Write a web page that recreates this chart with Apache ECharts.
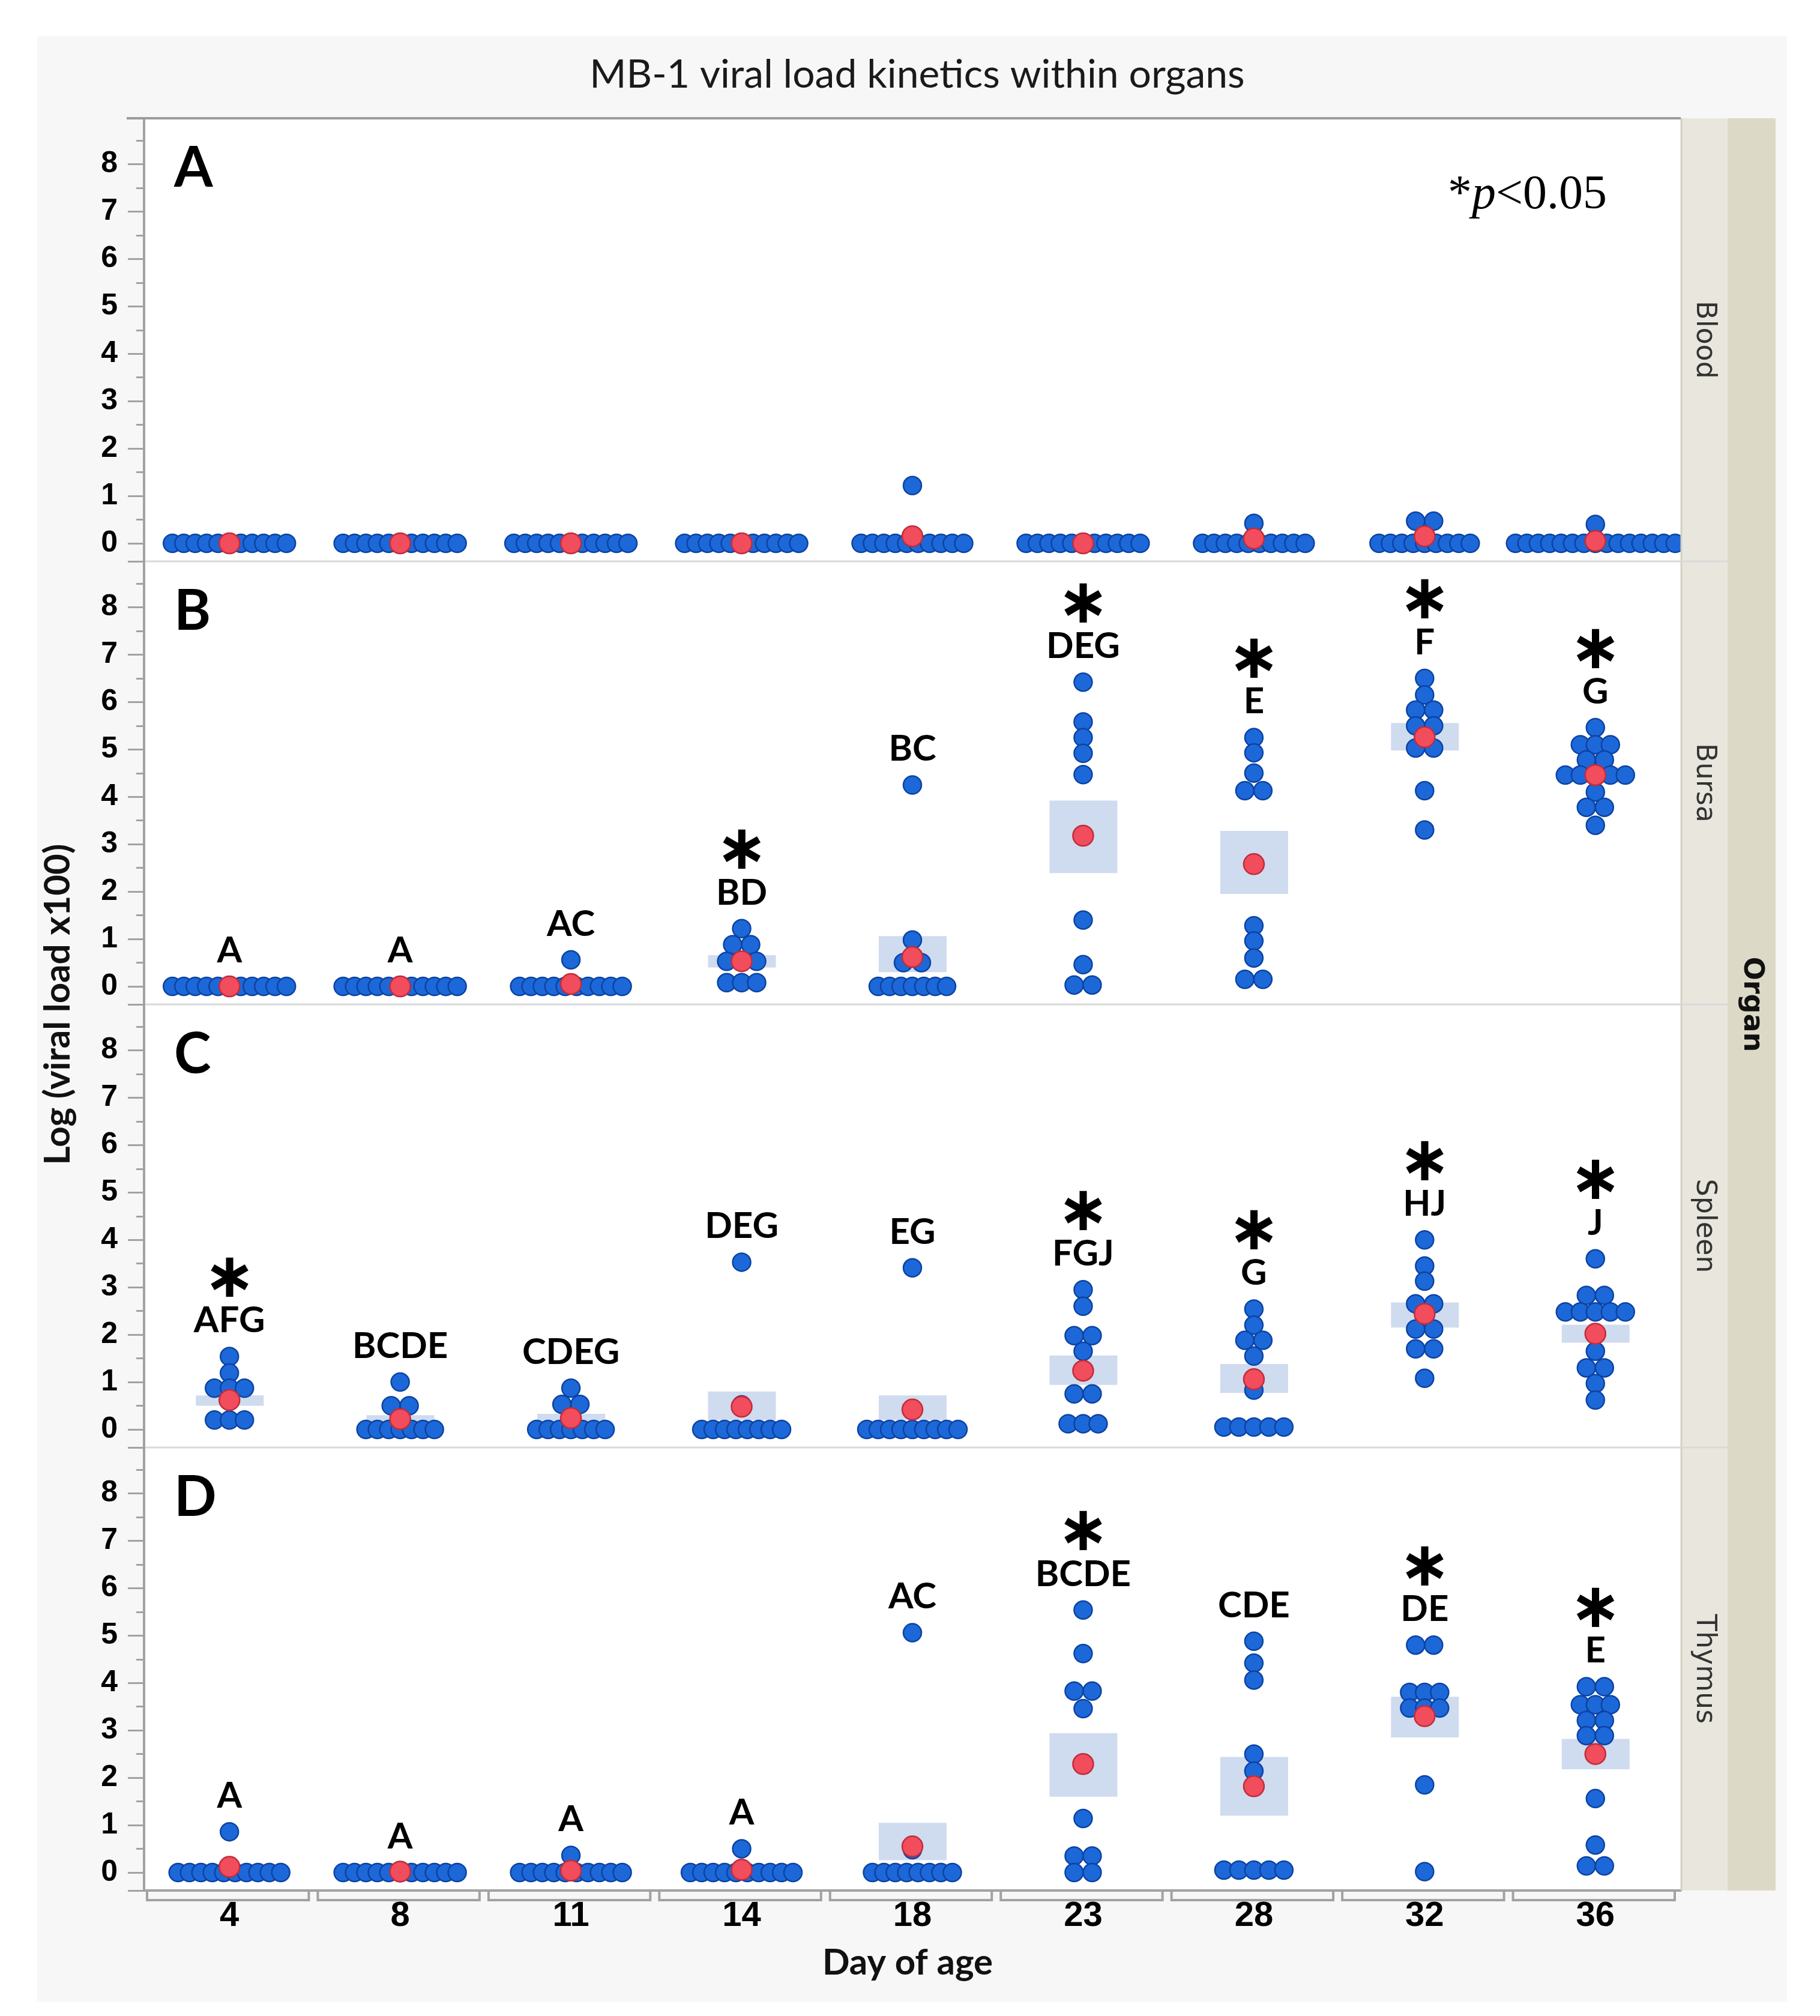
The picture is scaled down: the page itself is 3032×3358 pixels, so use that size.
<!DOCTYPE html>
<html>
<head>
<meta charset="utf-8">
<title>MB-1 viral load kinetics within organs</title>
<script src="https://cdn.jsdelivr.net/npm/echarts@6/dist/echarts.min.js"></script>
<style>
  html, body { margin: 0; padding: 0; background: #fff; }
  #chart { width: 3032px; height: 3358px; }
</style>
</head>
<body>
<div id="chart"></div>
<script>
// categories
var days = ['4', '8', '11', '14', '18', '23', '28', '32', '36'];
var organs = ['Blood', 'Bursa', 'Spleen', 'Thymus'];
var panelTags = ['A', 'B', 'C', 'D'];
var yTickLabels = [0, 1, 2, 3, 4, 5, 6, 7, 8];
var yMinorTicks = [0.5, 1.5, 2.5, 3.5, 4.5, 5.5, 6.5, 7.5, 8.5];

// individual birds, log(viral load x100), one list per day
var bloodVals = [
    [0, 0, 0, 0, 0, 0, 0, 0, 0, 0, 0],
    [0, 0, 0, 0, 0, 0, 0, 0, 0, 0, 0],
    [0, 0, 0, 0, 0, 0, 0, 0, 0, 0, 0],
    [0, 0, 0, 0, 0, 0, 0, 0, 0, 0, 0],
    [1.22, 0, 0, 0, 0, 0, 0, 0, 0, 0, 0],
    [0, 0, 0, 0, 0, 0, 0, 0, 0, 0, 0],
    [0.42, 0, 0, 0, 0, 0, 0, 0, 0, 0, 0],
    [0.47, 0.47, 0, 0, 0, 0, 0, 0, 0, 0, 0],
    [0.4, 0, 0, 0, 0, 0, 0, 0, 0, 0, 0, 0, 0, 0, 0, 0]
];
var bloodMean = [0, 0, 0, 0, 0.15, 0, 0.1, 0.15, 0.05];
var bloodLo = [null, null, null, null, null, null, null, null, null];
var bloodHi = [null, null, null, null, null, null, null, null, null];
var bloodLetters = ['', '', '', '', '', '', '', '', ''];
var bloodStars = [0, 0, 0, 0, 0, 0, 0, 0, 0];

var bursaVals = [
    [0, 0, 0, 0, 0, 0, 0, 0, 0, 0, 0],
    [0, 0, 0, 0, 0, 0, 0, 0, 0, 0, 0],
    [0.56, 0, 0, 0, 0, 0, 0, 0, 0, 0, 0],
    [1.22, 0.88, 0.88, 0.53, 0.53, 0.53, 0.08, 0.08, 0.08],
    [4.25, 0.98, 0.5, 0.5, 0, 0, 0, 0, 0, 0, 0],
    [6.42, 5.58, 5.25, 4.92, 4.47, 3.2, 1.4, 0.46, 0.03, 0.03],
    [5.25, 4.93, 4.5, 4.13, 4.13, 1.28, 0.96, 0.6, 0.15, 0.15],
    [6.5, 6.15, 5.83, 5.83, 5.5, 5.5, 5.03, 5.03, 4.13, 3.3],
    [5.46, 5.1, 5.1, 5.1, 4.78, 4.78, 4.46, 4.46, 4.46, 4.46, 4.46, 4.1, 3.78, 3.78, 3.4]
];
var bursaMean = [0, 0, 0.05, 0.53, 0.62, 3.18, 2.58, 5.26, 4.46];
var bursaLo = [null, null, null, 0.4, 0.3, 2.39, 1.95, 4.98, 4.3];
var bursaHi = [null, null, null, 0.66, 1.06, 3.92, 3.28, 5.56, 4.62];
var bursaLetters = ['A', 'A', 'AC', 'BD', 'BC', 'DEG', 'E', 'F', 'G'];
var bursaStars = [0, 0, 0, 1, 0, 1, 1, 1, 1];

var spleenVals = [
    [1.54, 1.19, 0.87, 0.87, 0.87, 0.6, 0.2, 0.2, 0.2],
    [1.0, 0.5, 0.5, 0.2, 0, 0, 0, 0, 0, 0, 0],
    [0.87, 0.53, 0.53, 0.23, 0, 0, 0, 0, 0, 0, 0],
    [3.53, 0.52, 0, 0, 0, 0, 0, 0, 0, 0],
    [3.41, 0, 0, 0, 0, 0, 0, 0, 0, 0],
    [2.95, 2.6, 1.98, 1.98, 1.65, 0.75, 0.75, 0.12, 0.12, 0.12],
    [2.54, 2.2, 1.88, 1.88, 1.55, 0.83, 0.05, 0.05, 0.05, 0.05, 0.05],
    [4.0, 3.45, 3.13, 2.65, 2.65, 2.12, 2.12, 1.7, 1.7, 1.08],
    [3.6, 2.83, 2.83, 2.48, 2.48, 2.48, 2.48, 2.48, 2.03, 1.65, 1.3, 1.3, 0.97, 0.62]
];
var spleenMean = [0.62, 0.22, 0.24, 0.48, 0.42, 1.24, 1.06, 2.44, 2.02];
var spleenLo = [0.5, 0.08, 0.1, 0.2, 0.2, 0.94, 0.77, 2.15, 1.83];
var spleenHi = [0.72, 0.3, 0.33, 0.8, 0.72, 1.56, 1.38, 2.68, 2.21];
var spleenLetters = ['AFG', 'BCDE', 'CDEG', 'DEG', 'EG', 'FGJ', 'G', 'HJ', 'J'];
var spleenStars = [1, 0, 0, 0, 0, 1, 1, 1, 1];

var thymusVals = [
    [0.86, 0, 0, 0, 0, 0, 0, 0, 0, 0, 0],
    [0, 0, 0, 0, 0, 0, 0, 0, 0, 0, 0],
    [0.36, 0, 0, 0, 0, 0, 0, 0, 0, 0, 0],
    [0.5, 0, 0, 0, 0, 0, 0, 0, 0, 0, 0],
    [5.06, 0.48, 0, 0, 0, 0, 0, 0, 0, 0],
    [5.54, 4.62, 3.83, 3.83, 3.46, 1.14, 0.35, 0.35, 0, 0],
    [4.88, 4.42, 4.06, 2.5, 2.14, 1.82, 0.05, 0.05, 0.05, 0.05, 0.05],
    [4.8, 4.8, 3.8, 3.8, 3.8, 3.47, 3.47, 3.47, 1.85, 0.02],
    [3.92, 3.92, 3.54, 3.54, 3.54, 3.21, 3.21, 2.89, 2.89, 2.52, 1.56, 0.58, 0.14, 0.14]
];
var thymusMean = [0.12, 0.02, 0.04, 0.06, 0.55, 2.29, 1.82, 3.3, 2.5];
var thymusLo = [null, null, null, null, 0.26, 1.6, 1.2, 2.85, 2.18];
var thymusHi = [null, null, null, null, 1.05, 2.94, 2.44, 3.71, 2.82];
var thymusLetters = ['A', 'A', 'A', 'A', 'AC', 'BCDE', 'CDE', 'DE', 'E'];
var thymusStars = [0, 0, 0, 0, 0, 1, 0, 1, 1];

var panels = [
    { vals: bloodVals, mean: bloodMean, lo: bloodLo, hi: bloodHi, letters: bloodLetters, stars: bloodStars },
    { vals: bursaVals, mean: bursaMean, lo: bursaLo, hi: bursaHi, letters: bursaLetters, stars: bursaStars },
    { vals: spleenVals, mean: spleenMean, lo: spleenLo, hi: spleenHi, letters: spleenLetters, stars: spleenStars },
    { vals: thymusVals, mean: thymusMean, lo: thymusLo, hi: thymusHi, letters: thymusLetters, stars: thymusStars }
];

// layout (pixels)
var W = 3032, H = 3358;
var gridLeft = 240, gridRight = 2800, gridTop = 197, panelH = 738;
var yMin = -0.38, yMax = 8.97;
var axisGray = '#a2a2a2';

// points sharing a value sit side by side, centred on the category
function swarm(vals) {
    var rows = [];
    vals.slice().sort(function (a, b) { return b - a; }).forEach(function (v) {
        var row = null;
        for (var i = 0; i < rows.length; i++) {
            if (Math.abs(rows[i].v - v) < 0.02) { row = rows[i]; break; }
        }
        if (row) row.items.push(v); else rows.push({ v: v, items: [v] });
    });
    var out = [];
    rows.forEach(function (r) {
        var n = r.items.length;
        var sp = n === 2 ? 30 : (n <= 5 ? 25 : 19);
        r.items.forEach(function (v, i) {
            out.push({ v: v, dx: (i - (n - 1) / 2) * sp });
        });
    });
    return out;
}

var grids = [], xAxes = [], yAxes = [], series = [], graphics = [];

panels.forEach(function (p, g) {
    var top = gridTop + panelH * g;
    grids.push({
        left: gridLeft, width: gridRight - gridLeft, top: top, height: panelH,
        show: true, backgroundColor: '#ffffff', borderWidth: 0
    });
    var last = g === panels.length - 1;
    xAxes.push({
        gridIndex: g, type: 'category', data: days, boundaryGap: true,
        axisLine: { show: last, onZero: false, lineStyle: { color: axisGray, width: 4 } },
        axisTick: { show: false },
        axisLabel: {
            show: last, margin: 14, fontSize: 58, fontWeight: 'bold',
            fontFamily: 'Liberation Sans', color: '#000'
        },
        splitLine: { show: false }
    });
    yAxes.push({
        gridIndex: g, type: 'value', min: yMin, max: yMax, position: 'left',
        axisLine: { show: true, lineStyle: { color: axisGray, width: 4 } },
        axisTick: {
            show: true, length: 27, customValues: [yMin].concat(yTickLabels, [yMax]),
            lineStyle: { color: axisGray, width: 3 }
        },
        axisLabel: {
            customValues: yTickLabels, margin: 44, fontSize: 50, fontWeight: 'bold',
            fontFamily: 'Liberation Sans', color: '#000'
        },
        splitLine: { show: false }
    });
    // minor ticks at the half units
    yAxes.push({
        gridIndex: g, type: 'value', min: yMin, max: yMax, position: 'left',
        axisLine: { show: false },
        axisTick: { show: true, length: 13, customValues: yMinorTicks, lineStyle: { color: axisGray, width: 3 } },
        axisLabel: { show: false },
        splitLine: { show: false }
    });

    var bandData = [], blueData = [], meanData = [], labelData = [];
    days.forEach(function (d, i) {
        if (p.lo[i] !== null) bandData.push([i, p.lo[i], p.hi[i]]);
        swarm(p.vals[i]).forEach(function (pt) {
            blueData.push({ value: [i, pt.v], symbolOffset: [pt.dx, 0] });
        });
        meanData.push([i, p.mean[i]]);
        if (p.letters[i]) {
            var text = (p.stars[i] ? '{s|\u2217}\n' : '') + '{l|' + p.letters[i] + '}';
            labelData.push({ value: [i, Math.max.apply(null, p.vals[i])], label: { formatter: text } });
        }
    });

    series.push({
        type: 'custom', xAxisIndex: g, yAxisIndex: 2 * g, z: 1, silent: true,
        data: bandData,
        renderItem: function (params, api) {
            var a = api.coord([api.value(0), api.value(1)]);
            var b = api.coord([api.value(0), api.value(2)]);
            return {
                type: 'rect',
                shape: { x: a[0] - 56, y: b[1], width: 113, height: a[1] - b[1] },
                style: { fill: '#cfdbee' }
            };
        }
    });
    series.push({
        type: 'scatter', xAxisIndex: g, yAxisIndex: 2 * g, z: 2, silent: true,
        symbolSize: 30, data: blueData,
        itemStyle: { color: '#1d68d8', borderColor: '#0c43a3', borderWidth: 2.5, opacity: 1 }
    });
    series.push({
        type: 'scatter', xAxisIndex: g, yAxisIndex: 2 * g, z: 3, silent: true,
        symbolSize: 34, data: meanData,
        itemStyle: { color: '#f24d5c', borderColor: '#c22c3b', borderWidth: 2.5, opacity: 1 }
    });
    series.push({
        type: 'scatter', xAxisIndex: g, yAxisIndex: 2 * g, z: 4, silent: true,
        symbolSize: 1, data: labelData,
        itemStyle: { color: 'rgba(0,0,0,0)' },
        label: {
            show: true, position: 'top', distance: 27, align: 'center',
            color: '#000', opacity: 1, textBorderWidth: 0,
            rich: {
                s: { fontFamily: 'DejaVu Sans', fontWeight: 'bold', fontSize: 104, lineHeight: 70, color: '#000' },
                l: { fontFamily: 'Lato', fontWeight: 'bold', fontSize: 60, lineHeight: 64, color: '#000' }
            }
        }
    });

    // panel letter and strip label
    graphics.push({
        type: 'text', x: gridLeft + 50, y: top + 84, z: 20,
        style: { text: panelTags[g], font: 'bold 93px Lato', fill: '#000', textVerticalAlign: 'middle' }
    });
    graphics.push({
        type: 'text', x: 2839, y: top + panelH / 2, rotation: -Math.PI / 2, z: 20,
        style: { text: organs[g], font: '46px "DejaVu Sans"', fill: '#333', textAlign: 'center', textVerticalAlign: 'middle' }
    });
    if (g > 0) {
        graphics.push({
            type: 'line', z: 15,
            shape: { x1: gridLeft + 2, y1: top, x2: 2878, y2: top },
            style: { stroke: '#d9d9d9', lineWidth: 3 }
        });
    }
});

// bracket ticks under each day
series.push({
    type: 'custom', xAxisIndex: 3, yAxisIndex: 6, z: 5, silent: true, clip: false,
    data: days.map(function (d, i) { return [i, 0]; }),
    renderItem: function (params, api) {
        var c = api.coord([api.value(0), 0]);
        var bw = api.size([1, 0])[0];
        var yb = params.coordSys.y + params.coordSys.height;
        var x0 = c[0] - bw / 2 + 5, x1 = c[0] + bw / 2 - 10;
        return {
            type: 'polyline',
            shape: { points: [[x0, yb + 2], [x0, yb + 16], [x1, yb + 16], [x1, yb + 2]] },
            style: { stroke: axisGray, lineWidth: 4, fill: null }
        };
    }
});

var plotBottom = gridTop + panelH * panels.length;
graphics = [
    { type: 'rect', z: -10, shape: { x: 62, y: 60, width: 2915, height: 3274 }, style: { fill: '#f7f7f7' } },
    { type: 'rect', z: 10, shape: { x: 2800, y: gridTop, width: 78, height: plotBottom - gridTop }, style: { fill: '#e9e7dd' } },
    { type: 'rect', z: 10, shape: { x: 2878, y: gridTop, width: 80, height: plotBottom - gridTop }, style: { fill: '#dcd9c7' } },
    { type: 'line', z: 11, shape: { x1: 2801, y1: gridTop, x2: 2801, y2: plotBottom }, style: { stroke: '#d3d0c0', lineWidth: 3 } },
    { type: 'line', z: 16, shape: { x1: 211, y1: gridTop, x2: 2800, y2: gridTop }, style: { stroke: '#9c9c9c', lineWidth: 4 } },
    {
        type: 'text', x: 1528, y: 125, z: 20,
        style: { text: 'MB-1 viral load kinetics within organs', font: '66px Lato', fill: '#1a1a1a', textAlign: 'center', textVerticalAlign: 'middle' }
    },
    {
        type: 'text', x: 2412, y: 326, z: 20,
        style: {
            text: '{a|*}{b|p}{a|<0.05}', textVerticalAlign: 'middle',
            rich: {
                a: { fontFamily: 'Liberation Serif', fontSize: 80, fill: '#000' },
                b: { fontFamily: 'Liberation Serif', fontStyle: 'italic', fontSize: 80, fill: '#000' }
            }
        }
    },
    {
        type: 'text', x: 2918, y: (gridTop + plotBottom) / 2, rotation: -Math.PI / 2, z: 20,
        style: { text: 'Organ', font: 'bold 46px "DejaVu Sans"', fill: '#111', textAlign: 'center', textVerticalAlign: 'middle' }
    },
    {
        type: 'text', x: 97, y: (gridTop + plotBottom) / 2, rotation: Math.PI / 2, z: 20,
        style: { text: 'Log (viral load x100)', font: 'bold 60px Lato', fill: '#111', textAlign: 'center', textVerticalAlign: 'middle' }
    },
    {
        type: 'text', x: 1512, y: 3270, z: 20,
        style: { text: 'Day of age', font: 'bold 60px Lato', fill: '#111', textAlign: 'center', textVerticalAlign: 'middle' }
    }
].concat(graphics);

var chart = echarts.init(document.getElementById('chart'), null, { width: W, height: H, devicePixelRatio: 1 });
chart.setOption({
    animation: false,
    backgroundColor: '#ffffff',
    grid: grids,
    xAxis: xAxes,
    yAxis: yAxes,
    series: series,
    graphic: { elements: graphics }
});
</script>
</body>
</html>
